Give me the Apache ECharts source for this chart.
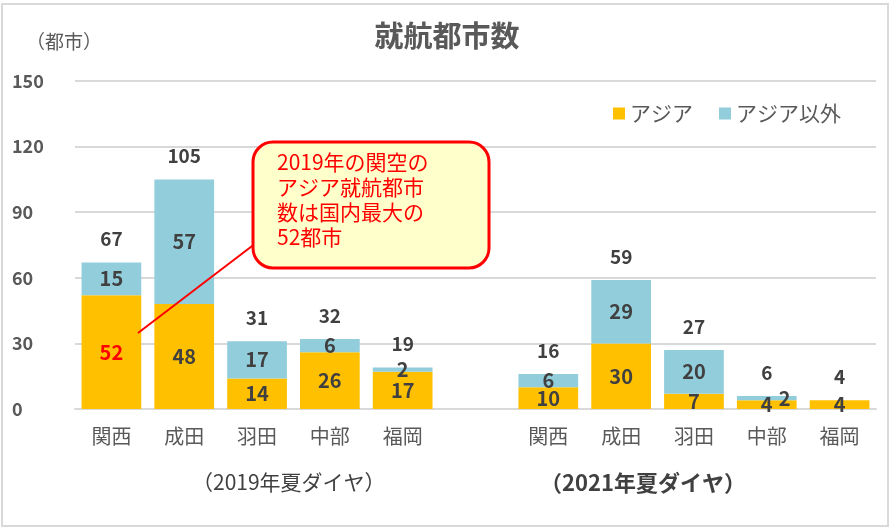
<!DOCTYPE html>
<html>
<head>
<meta charset="utf-8">
<script src="https://cdn.jsdelivr.net/npm/echarts@6/dist/echarts.min.js"></script>
<style>
html,body{margin:0;padding:0;background:#fff;}
#main{width:894px;height:529px;}
</style>
</head>
<body>
<div id="main"></div>
<script>
// カテゴリ（真ん中の空欄は2019と2021の区切り）
var airports = ['関西', '成田', '羽田', '中部', '福岡', '', '関西', '成田', '羽田', '中部', '福岡'];
var asia = [52, 48, 14, 26, 17, '-', 10, 30, 7, 4, 4];
var other = [15, 57, 17, 6, 2, '-', 6, 29, 20, 2, 0];
var totals = [67, 105, 31, 32, 19, '-', 16, 59, 27, 6, 4];
var yTicks = [0, 30, 60, 90, 120, 150];

var font = '"Noto Sans CJK JP", sans-serif';
var grayText = '#595959';
var labelColor = '#404040';

// アジアのラベル（関西2019だけ赤）
var asiaData = [];
for (var i = 0; i < asia.length; i++) {
    if (i == 0) {
        asiaData.push({value: asia[i], label: {color: '#ff0000'}});
    } else {
        asiaData.push(asia[i]);
    }
}
// アジア以外のラベル（中部2021の2は右にずらす）
var otherData = [];
for (var j = 0; j < other.length; j++) {
    if (j == 9) {
        otherData.push({value: other[j], label: {offset: [18, 0]}});
    } else {
        otherData.push(other[j]);
    }
}

var option = {
    backgroundColor: '#fff',
    animation: false,
    textStyle: {fontFamily: font},
    title: {
        text: '就航都市数',
        left: 'center',
        top: 16,
        textStyle: {fontSize: 29, fontWeight: 'bold', color: grayText, fontFamily: font}
    },
    legend: {
        data: ['アジア', 'アジア以外'],
        right: 48,
        top: 98,
        itemWidth: 12,
        itemHeight: 12,
        itemGap: 26,
        icon: 'rect',
        textStyle: {fontSize: 21, color: grayText, fontFamily: font}
    },
    grid: {left: 75, right: 18, top: 81, bottom: 120},
    xAxis: {
        type: 'category',
        data: airports,
        axisTick: {show: false},
        axisLine: {lineStyle: {color: '#d9d9d9', width: 2}},
        axisLabel: {fontSize: 20, color: grayText, margin: 17, fontFamily: font}
    },
    yAxis: {
        type: 'value',
        min: yTicks[0],
        max: yTicks[yTicks.length - 1],
        interval: 30,
        axisLine: {show: false},
        axisTick: {show: false},
        splitLine: {lineStyle: {color: '#d9d9d9', width: 2}},
        axisLabel: {fontSize: 18, fontWeight: 'bold', color: grayText, align: 'left', margin: 63, fontFamily: font}
    },
    series: [
        {
            name: 'アジア',
            type: 'bar',
            stack: 'total',
            barCategoryGap: '18%',
            itemStyle: {color: '#FFC000'},
            label: {show: true, position: 'inside', fontSize: 20, fontWeight: 'bold', color: labelColor,
                formatter: function (p) { return p.value === '-' ? '' : p.value; }},
            data: asiaData
        },
        {
            name: 'アジア以外',
            type: 'bar',
            stack: 'total',
            itemStyle: {color: '#92CDDC'},
            label: {show: true, position: 'inside', fontSize: 20, fontWeight: 'bold', color: labelColor,
                formatter: function (p) { return (p.value === 0 || p.value === '-') ? '' : p.value; }},
            data: otherData
        },
        {
            name: '合計',
            type: 'scatter',
            symbolSize: 2,
            itemStyle: {color: 'rgba(255,255,255,0)', opacity: 1},
            label: {show: true, position: 'top', distance: 13, fontSize: 19, fontWeight: 'bold', color: labelColor},
            data: totals,
            z: 5
        }
    ],
    graphic: [
        {
            type: 'rect',
            shape: {x: 2, y: 4, width: 886, height: 522},
            style: {fill: 'none', stroke: '#d9d9d9', lineWidth: 2},
            silent: true
        },
        {
            type: 'text',
            left: 26, top: 32,
            style: {text: '（都市）', fontSize: 19, fill: grayText, fontFamily: font}
        },
        {
            type: 'line',
            shape: {x1: 138, y1: 333, x2: 256, y2: 243},
            style: {stroke: '#ff0000', lineWidth: 2},
            z: 10
        },
        {
            type: 'rect',
            shape: {x: 253, y: 142, width: 236, height: 126, r: 20},
            style: {fill: '#FFFFCC', stroke: '#ff0000', lineWidth: 3},
            z: 10
        },
        {
            type: 'text',
            left: 277, top: 150,
            style: {
                text: '2019年の関空の\nアジア就航都市\n数は国内最大の\n52都市',
                fontSize: 21, lineHeight: 25, fill: '#ff0000', fontFamily: font
            },
            z: 11
        },
        {
            type: 'text',
            left: 192, top: 472,
            style: {text: '（2019年夏ダイヤ）', fontSize: 21, fill: '#404040', fontFamily: font}
        },
        {
            type: 'text',
            left: 540, top: 472,
            style: {text: '（2021年夏ダイヤ）', fontSize: 22, fontWeight: 'bold', fill: '#404040', fontFamily: font}
        }
    ]
};

var myChart = echarts.init(document.getElementById('main'));
myChart.setOption(option);
</script>
</body>
</html>
